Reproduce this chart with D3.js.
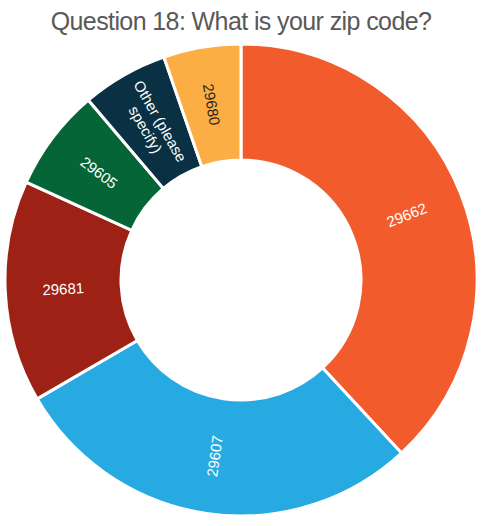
<!DOCTYPE html>
<html>
<head>
<meta charset="utf-8">
<script src="https://cdn.jsdelivr.net/npm/d3@7"></script>
<style>
  body { margin: 0; background: #fff; }
  svg { display: block; }
</style>
</head>
<body>
<div id="chart"></div>
<script>
// zip code answers, clockwise from 12 o'clock
const categories = ["29662", "29607", "29681", "29605", "Other (please specify)", "29680"];
const shares = [38.1, 28.5, 15.2, 7.0, 5.9, 5.3];
const colors = ["#F25C2C", "#27AAE1", "#9E2116", "#066536", "#0A3143", "#FCAE45"];
const textColors = ["#fff", "#fff", "#fff", "#fff", "#fff", "#222"];

const width = 482, height = 526;
const cx = 241, cy = 280;
const outerR = 236, innerR = 120;

const svg = d3.select("#chart").append("svg")
    .attr("width", width)
    .attr("height", height);

svg.append("text")
    .attr("x", width / 2)
    .attr("y", 30)
    .attr("text-anchor", "middle")
    .style("font-family", "Liberation Sans, Arial, sans-serif")
    .style("font-size", "25px")
    .style("letter-spacing", "-0.6px")
    .style("fill", "#595959")
    .text("Question 18: What is your zip code?");

const data = categories.map((c, i) => ({ name: c, value: shares[i], color: colors[i], text: textColors[i] }));

const pie = d3.pie().value(d => d.value).sort(null);
const arc = d3.arc().innerRadius(innerR).outerRadius(outerR);

const g = svg.append("g").attr("transform", `translate(${cx},${cy})`);
const arcs = pie(data);

g.selectAll("path.slice")
    .data(arcs)
    .enter().append("path")
    .attr("class", "slice")
    .attr("d", arc)
    .attr("fill", d => d.data.color)
    .attr("stroke", "#fff")
    .attr("stroke-width", 3);

// labels sit in the middle of the ring, turned along the radius
const labelR = (innerR + outerR) / 2;
const label = g.selectAll("g.label")
    .data(arcs)
    .enter().append("g")
    .attr("class", "label")
    .attr("transform", function(d) {
        const mid = (d.startAngle + d.endAngle) / 2;
        const x = Math.sin(mid) * labelR;
        const y = -Math.cos(mid) * labelR;
        let rot = mid * 180 / Math.PI - 90;
        if (rot > 90) rot -= 180;
        return `translate(${x},${y}) rotate(${rot})`;
    });

label.append("text")
    .attr("text-anchor", "middle")
    .style("font-family", "Liberation Sans, Arial, sans-serif")
    .style("font-size", "15px")
    .style("fill", d => d.data.text)
    .each(function(d) {
        const lines = d.data.name === "Other (please specify)" ? ["Other (please", "specify)"] : [d.data.name];
        const t = d3.select(this);
        const lh = 17;
        lines.forEach((ln, i) => {
            t.append("tspan")
                .attr("x", 0)
                .attr("y", (i - (lines.length - 1) / 2) * lh)
                .attr("dy", "0.35em")
                .text(ln);
        });
    });
</script>
</body>
</html>
